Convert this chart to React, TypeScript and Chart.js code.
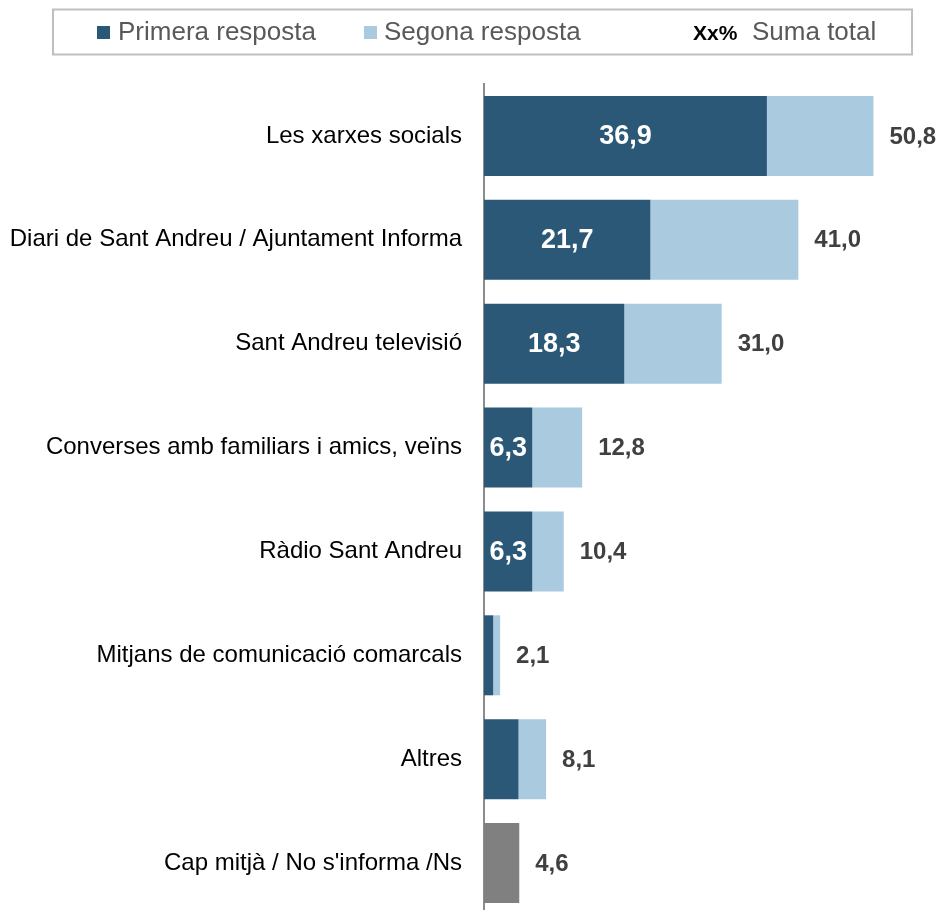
import React, { useEffect, useRef } from "react";
import { Chart, registerables } from "chart.js";

Chart.register(...registerables);

const categories = [
  "Les xarxes socials",
  "Diari de Sant Andreu / Ajuntament Informa",
  "Sant Andreu televisió",
  "Converses amb familiars i amics, veïns",
  "Ràdio Sant Andreu",
  "Mitjans de comunicació comarcals",
  "Altres",
  "Cap mitjà / No s'informa /Ns",
];
const primera = [36.9, 21.7, 18.3, 6.3, 6.3, 1.2, 4.5, null];
const segona = [13.9, 19.3, 12.7, 6.5, 4.1, 0.9, 3.6, null];
const capMitja = [null, null, null, null, null, null, null, 4.6];
const totals = [50.8, 41.0, 31.0, 12.8, 10.4, 2.1, 8.1, 4.6];

const legendLabels = ["Primera resposta", "Segona resposta", "Xx%", "Suma total"];

const DARK = "#2B5876";
const LIGHT = "#A9CADF";
const GREY = "#808080";
const FONT = "'Liberation Sans', Arial, sans-serif";

const fmt = (v: number) => v.toFixed(1).replace(".", ",");

const legendPlugin = {
  id: "customLegend",
  beforeDraw(chart: any) {
    const ctx = chart.ctx;
    ctx.save();
    ctx.strokeStyle = "#BFBFBF";
    ctx.lineWidth = 2;
    ctx.strokeRect(53, 9.5, 859, 45);
    ctx.fillStyle = DARK;
    ctx.fillRect(97, 26, 13, 13);
    ctx.fillStyle = LIGHT;
    ctx.fillRect(364, 26, 13, 13);
    ctx.textBaseline = "alphabetic";
    ctx.textAlign = "left";
    ctx.font = `26px ${FONT}`;
    ctx.fillStyle = "#595959";
    ctx.fillText(legendLabels[0], 118, 40);
    ctx.fillText(legendLabels[1], 384, 40);
    ctx.fillText(legendLabels[3], 752, 40);
    ctx.font = `bold 21px ${FONT}`;
    ctx.fillStyle = "#000000";
    ctx.fillText(legendLabels[2], 693, 40);
    ctx.restore();
  },
};

const valueLabelsPlugin = {
  id: "valueLabels",
  afterDatasetsDraw(chart: any) {
    const ctx = chart.ctx;
    const xs = chart.scales.x;
    const ys = chart.scales.y;
    ctx.save();
    ctx.textBaseline = "middle";
    ctx.font = `bold 27px ${FONT}`;
    ctx.fillStyle = "#FFFFFF";
    ctx.textAlign = "center";
    primera.forEach((v, i) => {
      if (v == null || v < 5) return;
      const x0 = xs.getPixelForValue(0);
      const x1 = xs.getPixelForValue(v);
      ctx.fillText(fmt(v), (x0 + x1) / 2, ys.getPixelForValue(i) + 1);
    });
    ctx.font = `bold 24px ${FONT}`;
    ctx.fillStyle = "#404040";
    ctx.textAlign = "left";
    totals.forEach((t, i) => {
      ctx.fillText(fmt(t), xs.getPixelForValue(t) + 16, ys.getPixelForValue(i) + 1);
    });
    ctx.restore();
  },
};

export default function App() {
  const ref = useRef<HTMLCanvasElement | null>(null);
  useEffect(() => {
    if (!ref.current) return;
    const chart = new Chart(ref.current, {
      type: "bar",
      data: {
        labels: categories,
        datasets: [
          { label: legendLabels[0], data: primera as any, backgroundColor: DARK, barPercentage: 0.77, categoryPercentage: 1 },
          { label: legendLabels[1], data: segona as any, backgroundColor: LIGHT, barPercentage: 0.77, categoryPercentage: 1 },
          { label: "Cap", data: capMitja as any, backgroundColor: GREY, barPercentage: 0.77, categoryPercentage: 1 },
        ],
      },
      options: {
        indexAxis: "y",
        animation: false,
        responsive: false,
        devicePixelRatio: 1,
        layout: { padding: { top: 84, bottom: 5, left: 0, right: 0 } },
        plugins: { legend: { display: false }, tooltip: { enabled: false } },
        scales: {
          x: { stacked: true, min: 0, max: 60, display: false },
          y: {
            stacked: true,
            position: "left",
            grid: { display: false, drawTicks: false },
            border: { display: true, color: "#8C8C8C", width: 2 },
            ticks: { padding: 22, color: "#000000", font: { family: FONT, size: 24 } },
            afterFit: (scale: any) => {
              scale.width = 484;
              scale.paddingTop = 0;
              scale.paddingBottom = 0;
            },
          },
        },
      } as any,
      plugins: [legendPlugin, valueLabelsPlugin],
    });
    return () => chart.destroy();
  }, []);
  return (
    <div style={{ position: "absolute", left: 0, top: 0, width: 944, height: 910, overflow: "hidden", background: "#fff" }}>
      <canvas ref={ref} width={944} height={920} style={{ display: "block", width: 944, height: 920 }} />
    </div>
  );
}
